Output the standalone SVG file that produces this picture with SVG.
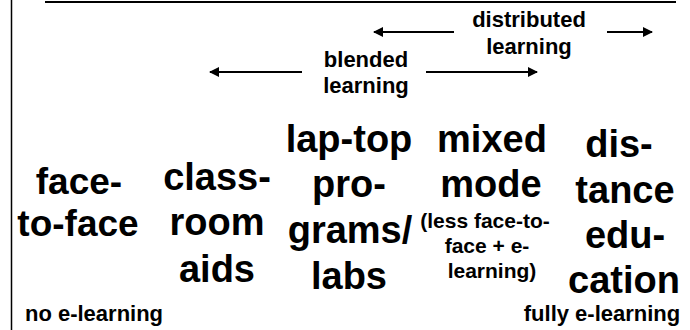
<svg xmlns="http://www.w3.org/2000/svg" width="690" height="330" viewBox="0 0 690 330">
  <defs>
    <marker id="head" viewBox="0 0 10 10" refX="9" refY="5" markerWidth="5" markerHeight="5" orient="auto-start-reverse" markerUnits="strokeWidth">
      <path d="M0,0 L10,5 L0,10 Z" fill="#000"/>
    </marker>
    <style>
      text { font-family: "Liberation Sans", Arial, Helvetica, sans-serif; font-weight: bold; fill: #000; text-anchor: middle; }
      .big { font-size: 38px; }
      .mid { font-size: 37px; }
      .lbl { font-size: 22px; }
      .sub { font-size: 21px; }
      .frame { stroke: #000; fill: none; }
      .arrow { stroke: #000; stroke-width: 2; fill: none; }
    </style>
  </defs>

  <rect width="690" height="330" fill="#fff"/>

  <!-- frame lines -->
  <line class="frame" x1="11.5" y1="0" x2="11.5" y2="330" stroke-width="1.5"/>
  <line class="frame" x1="45" y1="2" x2="676" y2="2" stroke-width="2"/>

  <!-- span arrows -->
  <g id="connectors">
    <line class="arrow" x1="454" y1="32" x2="374" y2="32" marker-end="url(#head)"/>
    <line class="arrow" x1="607" y1="32" x2="652" y2="32" marker-end="url(#head)"/>
    <line class="arrow" x1="302" y1="72" x2="210" y2="72" marker-end="url(#head)"/>
    <line class="arrow" x1="426" y1="72" x2="537" y2="72" marker-end="url(#head)"/>
  </g>

  <g id="distributed-learning">
    <text class="lbl" x="529" y="27">distributed</text>
    <text class="lbl" x="529" y="54">learning</text>
  </g>

  <g id="blended-learning">
    <text class="lbl" x="366" y="67">blended</text>
    <text class="lbl" x="366" y="93">learning</text>
  </g>

  <g id="face-to-face">
    <text class="mid" x="79" y="194">face-</text>
    <text class="mid" x="78" y="236">to-face</text>
  </g>

  <g id="classroom-aids">
    <text class="big" x="217" y="190">class-</text>
    <text class="big" x="217" y="235">room</text>
    <text class="big" x="217" y="282">aids</text>
  </g>

  <g id="laptop-programs">
    <text class="big" x="349" y="152">lap-top</text>
    <text class="big" x="349" y="197">pro-</text>
    <text class="big" x="350" y="243">grams/</text>
    <text class="big" x="349" y="289">labs</text>
  </g>

  <g id="mixed-mode">
    <text class="big" x="492" y="152">mixed</text>
    <text class="big" x="491" y="197">mode</text>
    <text class="sub" x="485" y="228">(less face-to-</text>
    <text class="sub" x="487" y="253">face + e-</text>
    <text class="sub" x="492" y="278">learning)</text>
  </g>

  <g id="distance-education">
    <text class="big" x="619" y="157">dis-</text>
    <text class="big" x="625" y="203">tance</text>
    <text class="big" x="625" y="248">edu-</text>
    <text class="big" x="624" y="293">cation</text>
  </g>

  <g id="no-e-learning">
    <text class="lbl" x="94" y="321">no e-learning</text>
  </g>

  <g id="fully-e-learning">
    <text class="lbl" x="602" y="321">fully e-learning</text>
  </g>
</svg>
